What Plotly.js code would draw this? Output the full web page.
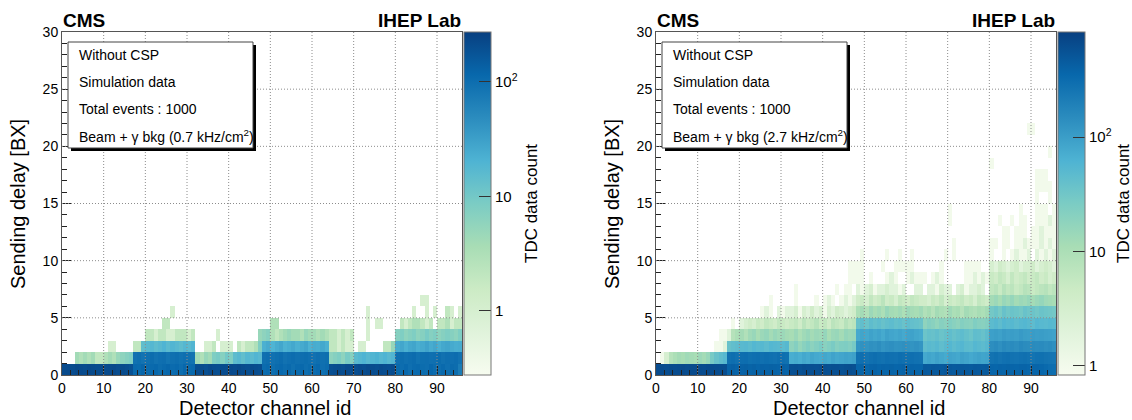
<!DOCTYPE html>
<html><head><meta charset="utf-8">
<script src="https://cdn.plot.ly/plotly-3.0.1.min.js"></script>
<style>html,body{margin:0;padding:0;background:#fff}#chart{width:1132px;height:420px}</style>
</head><body><div id="chart"></div>
<script>
// ---------------- DATA (TDC data counts per channel, per sending-delay bin) ----------------
const nChannels = 96;
const nDelayBins = 30;

// Left panel: gamma bkg 0.7 kHz/cm2 ; dense rows for delay bins 0..4
const leftRow0 = [
  215,220,210,225,218,212,222,216,208,220,214,218,224,210,216,205,190,
  112,108,120,104,110,115,102,109,117,106,112,100,114,108,111,
  205,212,198,218,207,200,215,209,222,214,226,210,203,219,208,201,
  104,110,98,107,112,101,109,95,106,113,99,108,104,111,97,105,
  196,205,212,203,218,209,200,214,206,221,210,203,215,207,199,211,
  108,101,112,97,106,110,103,99,114,105,100,109,96,107,102,72];
const leftRow1 = [
  0,0,0,4,3,4,3,4,2,2,3,4,3,5,6,7,8,
  92,98,88,95,102,90,96,99,87,94,100,91,97,93,89,
  4,3,5,4,8,9,7,10,8,15,17,14,18,16,19,17,
  95,100,92,98,104,90,97,101,94,99,103,96,92,100,95,98,
  6,7,8,6,9,7,16,18,20,17,19,21,18,20,17,19,
  96,102,94,99,105,91,98,100,95,97,103,93,99,96,101,90];
const leftRow2 = [
  0,0,0,0,0,0,0,0,0,0,0,1,1,0,0,0,0,
  2,2,14,16,18,15,17,20,16,19,17,15,18,16,19,
  0,0,1,1,2,0,1,1,1,0,2,1,2,2,3,8,
  22,25,20,24,27,21,23,26,22,25,28,21,24,23,26,22,
  2,2,1,2,1,1,0,1,1,0,0,0,0,2,2,5,
  24,27,22,26,28,23,25,29,24,27,22,26,28,25,23,24];
const leftRow3 = [
  0,0,0,0,0,0,0,0,0,0,0,0,0,0,0,0,0,
  0,0,0,2,2,1,2,2,1,1,2,2,2,1,2,
  0,0,0,0,0,1,0,0,0,0,0,0,0,0,0,5,
  6,7,3,2,3,4,5,4,4,3,5,4,4,3,4,3,
  2,2,1,2,1,2,0,0,0,1,0,0,0,0,0,0,
  7,8,6,7,8,6,7,9,7,8,6,7,8,7,6,8];
const leftRow4 = [
  0,0,0,0,0,0,0,0,0,0,0,0,0,0,0,0,0,
  0,0,0,0,0,0,0,2,2,0,0,0,0,0,0,
  0,0,0,0,0,0,0,0,0,0,0,0,0,0,0,0,
  0,0,3,3,0,0,0,0,0,0,0,0,0,0,0,0,
  0,0,0,0,0,0,0,0,0,1,0,1,1,0,0,0,
  0,2,1,2,3,3,2,1,2,0,2,2,3,1,2,2];
// sparse hits above: [delay bin, channel, count]
const leftSparse = [[5,26,1],[5,73,1],[5,84,1],[5,87,1],[5,89,1],[5,92,2],[5,93,1],[5,95,1],[6,86,1],[6,87,1]];

// Right panel: gamma bkg 2.7 kHz/cm2 ; dense rows for delay bins 0..9
const rightRow0 = [
  640,655,630,660,645,650,670,635,660,648,655,640,665,650,638,625,610,
  390,405,380,395,410,385,400,375,398,388,402,392,380,395,385,
  590,605,580,610,595,600,585,615,600,590,605,595,580,600,610,590,
  370,385,360,378,390,365,380,372,385,368,375,390,362,380,370,375,
  480,470,495,485,475,500,490,470,485,495,480,470,490,485,475,480,
  375,365,380,370,385,372,368,378,382,365,375,370,360,330,310,300];
const rightRow1 = [
  0,1,3,8,10,12,11,13,12,11,14,12,15,28,38,45,52,
  290,305,280,300,310,285,295,300,288,305,292,280,300,295,285,
  70,75,68,80,72,85,78,74,82,76,88,80,84,90,86,92,
  280,295,270,290,300,285,275,295,288,280,300,290,285,295,280,275,
  78,85,80,90,82,75,88,84,80,92,86,78,84,90,85,88,
  270,285,260,280,290,275,268,282,290,275,265,280,285,270,260,255];
const rightRow2 = [
  0,0,0,0,0,0,0,0,0,0,0,0,0,0,1,1,2,
  38,42,45,50,52,48,55,50,53,47,55,52,50,48,52,
  18,22,16,20,24,19,22,26,20,23,27,21,24,25,22,28,
  120,130,125,135,128,140,122,132,138,126,130,135,128,124,132,120,
  45,50,48,52,44,50,55,47,52,56,48,46,54,50,47,52,
  140,150,135,155,145,150,142,158,148,145,152,146,150,140,148,135];
const rightRow3 = [
  0,0,0,0,0,0,0,0,0,0,0,0,0,0,0,1,1,
  2,8,10,12,9,13,15,11,14,16,12,15,13,14,12,
  11,14,10,13,15,12,14,13,16,11,14,15,12,16,14,15,
  78,85,80,90,82,88,76,92,84,80,86,78,88,90,82,76,
  35,40,38,42,36,40,44,38,42,46,40,35,44,42,38,45,
  95,100,92,105,98,102,96,108,100,97,104,99,102,96,94,90];
const rightRow4 = [
  0,0,0,0,0,0,0,0,0,0,0,0,0,0,0,0,0,
  0,1,0,2,3,4,3,5,4,6,5,4,6,5,4,
  5,6,4,7,5,6,8,5,6,4,7,6,5,8,6,7,
  38,42,36,45,40,44,38,42,46,40,43,37,44,41,39,36,
  18,22,20,17,21,19,23,20,18,22,20,19,24,21,20,22,
  48,52,45,55,50,53,47,52,55,50,46,54,51,49,53,50];
const rightRow5 = [
  0,0,0,0,0,0,0,0,0,0,0,0,0,0,0,0,0,
  0,0,0,0,0,0,0,0,1,2,1,0,2,1,2,
  2,3,1,3,2,4,2,3,1,3,2,4,3,2,3,4,
  10,12,9,14,11,13,10,15,12,11,13,10,14,12,11,13,
  9,11,8,12,10,9,13,10,11,8,12,10,9,11,10,12,
  30,35,28,38,32,36,34,30,37,33,35,31,36,34,32,30];
const rightRow6 = [
  0,0,0,0,0,0,0,0,0,0,0,0,0,0,0,0,0,
  0,0,0,0,0,0,0,0,0,0,1,0,0,0,0,
  0,1,0,0,0,0,1,0,1,2,1,0,1,2,1,2,
  4,5,3,6,4,5,7,4,5,3,6,5,4,6,5,4,
  4,3,5,4,6,3,5,4,5,6,4,5,3,6,5,4,
  12,14,11,15,13,16,12,14,13,15,12,14,16,13,12,11];
const rightRow7 = [
  0,0,0,0,0,0,0,0,0,0,0,0,0,0,0,0,0,
  0,0,0,0,0,0,0,0,0,0,0,0,0,0,0,
  0,1,0,0,0,0,0,0,0,0,0,1,0,1,1,0,
  2,1,2,3,1,2,2,3,2,2,1,2,0,0,2,2,
  0,2,2,1,3,2,2,0,2,3,1,2,2,3,2,0,
  6,7,5,8,6,7,5,6,8,7,5,6,7,8,6,7];
const rightRow8 = [
  0,0,0,0,0,0,0,0,0,0,0,0,0,0,0,0,0,
  0,0,0,0,0,0,0,0,0,0,0,0,0,0,0,
  0,0,0,0,0,0,0,0,0,0,0,0,0,0,1,1,
  1,1,0,1,0,0,0,1,2,1,0,0,1,2,1,1,
  1,0,1,2,1,0,0,0,0,0,1,1,2,1,2,1,
  5,4,6,5,3,6,4,5,6,4,5,6,4,5,3,4];
const rightRow9 = [
  0,0,0,0,0,0,0,0,0,0,0,0,0,0,0,0,0,
  0,0,0,0,0,0,0,0,0,0,0,0,0,0,0,
  0,0,0,0,0,0,0,0,0,0,0,0,0,0,1,1,
  1,1,0,0,0,0,1,0,0,1,1,1,1,1,0,0,
  0,0,0,0,1,0,0,0,0,0,1,1,1,1,0,0,
  3,2,4,3,2,3,4,2,3,3,4,2,3,4,3,2];
const rightSparse = [
  [10,49,1],[10,55,1],[10,58,1],[10,61,1],[10,69,1],[10,71,1],[10,80,1],[10,83,1],[10,85,1],[10,86,2],[10,87,1],[10,88,1],[10,89,2],[10,91,2],[10,92,1],[10,93,2],[10,94,1],[10,95,2],
  [11,71,1],[11,80,1],[11,81,1],[11,83,1],[11,84,1],[11,86,1],[11,87,1],[11,88,2],[11,89,1],[11,90,1],[11,91,1],[11,92,2],[11,93,1],[11,94,2],[11,95,1],
  [12,83,1],[12,84,1],[12,86,1],[12,87,1],[12,88,1],[12,90,1],[12,91,1],[12,92,2],[12,93,1],[12,94,1],[12,95,1],
  [13,70,1],[13,82,1],[13,85,1],[13,87,1],[13,88,1],[13,91,1],[13,92,1],[13,93,1],[13,94,2],[13,95,1],
  [14,70,1],[14,87,1],[14,91,1],[14,92,1],[14,93,1],[14,95,1],
  [15,91,1],[15,94,1],
  [16,91,1],[16,92,1],[16,93,1],[16,94,1],
  [17,91,1],[17,92,1],[17,93,1],
  [18,80,1],[19,94,1],[21,89,1],[21,90,1]];

// colour-bar ranges
const leftCbRange = [0.275, 272];
const rightCbRange = [0.83, 830];
const cbMajorTicks = [1, 10, 100];
const cbMajorLabels = ['1', '10', '10<sup>2</sup>'];
const leftCbMinor = [0.3,0.4,0.5,0.6,0.7,0.8,0.9,2,3,4,5,6,7,8,9,20,30,40,50,60,70,80,90,200];
const rightCbMinor = [2,3,4,5,6,7,8,9,20,30,40,50,60,70,80,90,200,300,400,500,600,700,800];

const xTickVals = [0,10,20,30,40,50,60,70,80,90];
const yTickVals = [0,5,10,15,20,25,30];
const legendLinesLeft = ['Without CSP','Simulation data','Total events : 1000','Beam + \u03b3 bkg (0.7 kHz/cm<sup>2</sup>)'];
const legendLinesRight = ['Without CSP','Simulation data','Total events : 1000','Beam + \u03b3 bkg (2.7 kHz/cm<sup>2</sup>)'];

// ---------------- BUILD ----------------
function buildLogMatrix(dense, sparse) {
  const m = [];
  for (let k = 0; k < nDelayBins; k++) m.push(dense[k] ? dense[k].slice(0, nChannels) : new Array(nChannels).fill(0));
  sparse.forEach(([k, c, v]) => { m[k][c] = v; });
  return m.map(r => r.map(v => v > 0 ? Math.log10(v) : null));
}
const zLeft = buildLogMatrix([leftRow0,leftRow1,leftRow2,leftRow3,leftRow4], leftSparse);
const zRight = buildLogMatrix([rightRow0,rightRow1,rightRow2,rightRow3,rightRow4,rightRow5,rightRow6,rightRow7,rightRow8,rightRow9], rightSparse);

const W = 1132, H = 420;
const px = p => p / W, py = p => 1 - p / H;
const FONT = 'Liberation Sans, Arial, Helvetica, sans-serif';

const gnbu = [[0,'#f7fcf0'],[0.125,'#e0f3db'],[0.25,'#ccebc5'],[0.375,'#a8ddb5'],[0.5,'#7bccc4'],[0.625,'#4eb3d3'],[0.75,'#2b8cbe'],[0.875,'#0868ac'],[1,'#084081']];

const plotTop = 32, plotBot = 375, cbThick = 27;
const panels = [
  {x0:62, x1:462, cb:464, cbTitle:531, ytitle:18, z:zLeft, range:leftCbRange, minor:leftCbMinor, legend:legendLinesLeft},
  {x0:656, x1:1056, cb:1058, cbTitle:1123, ytitle:612, z:zRight, range:rightCbRange, minor:rightCbMinor, legend:legendLinesRight}
];

const traces = [], shapes = [], annotations = [];
const layout = {
  width: W, height: H, margin: {l:0, r:0, t:0, b:0},
  paper_bgcolor: '#fff', plot_bgcolor: '#fff',
  font: {family: FONT, color: '#000'},
  showlegend: false
};
const gridLine = {color:'#8c8c8c', width:1, dash:'1px,2px'};

panels.forEach((p, i) => {
  const xa = i === 0 ? 'x' : 'x2', ya = i === 0 ? 'y' : 'y2';
  const xKey = i === 0 ? 'xaxis' : 'xaxis2', yKey = i === 0 ? 'yaxis' : 'yaxis2';
  const lmin = Math.log10(p.range[0]), lmax = Math.log10(p.range[1]);
  traces.push({
    type: 'heatmap', z: p.z, x0: 0.5, dx: 1, y0: 0.5, dy: 1,
    xaxis: xa, yaxis: ya, colorscale: gnbu,
    zmin: lmin, zmax: lmax, zauto: false,
    hoverinfo: 'skip',
    colorbar: {
      x: px(p.cb), xanchor: 'left', xpad: 0, ypad: 0,
      y: py(plotBot), yanchor: 'bottom', len: (plotBot - plotTop) / H, lenmode: 'fraction',
      thickness: cbThick, thicknessmode: 'pixels',
      outlinewidth: 1, outlinecolor: '#777',
      tickmode: 'array',
      tickvals: cbMajorTicks.map(v => Math.log10(v)),
      ticktext: cbMajorLabels,
      ticks: 'inside', ticklen: 12, tickwidth: 1, tickcolor: '#333',
      tickfont: {size: 15, family: FONT, color: '#000'}
    }
  });
  // minor ticks of the logarithmic palette axis
  p.minor.forEach(v => {
    const yy = py(plotBot) + (Math.log10(v) - lmin) / (lmax - lmin) * (plotBot - plotTop) / H;
    shapes.push({type:'line', xref:'paper', yref:'paper', x0:px(p.cb + cbThick - 6), x1:px(p.cb + cbThick), y0:yy, y1:yy, layer:'above', line:{color:'#333', width:1}});
  });
  layout[xKey] = {
    domain: [px(p.x0), px(p.x1)], range: [0, 96], anchor: ya,
    tickmode: 'array', tickvals: xTickVals, ticks: 'inside', ticklen: 9, tickwidth: 1, tickcolor: '#222',
    minor: {dtick: 2, tick0: 0, ticks: 'inside', ticklen: 5, tickcolor: '#222', showgrid: false},
    showline: true, mirror: true, linecolor: '#555', linewidth: 1,
    showgrid: false, zeroline: false, fixedrange: true,
    tickfont: {size: 14, family: FONT, color: '#000'}
  };
  layout[yKey] = {
    domain: [py(plotBot), py(plotTop)], range: [0, 30], anchor: xa,
    tickmode: 'array', tickvals: yTickVals, ticks: 'inside', ticklen: 9, tickwidth: 1, tickcolor: '#222',
    minor: {dtick: 1, tick0: 0, ticks: 'inside', ticklen: 5, tickcolor: '#222', showgrid: false},
    showline: true, mirror: true, linecolor: '#555', linewidth: 1,
    showgrid: false, zeroline: false, fixedrange: true,
    tickfont: {size: 14, family: FONT, color: '#000'}
  };
  // dotted grid drawn above the cells
  xTickVals.slice(1).forEach(v => shapes.push({type:'line', xref:xa, yref:ya, x0:v, x1:v, y0:0, y1:30, layer:'above', line:gridLine}));
  yTickVals.slice(1, -1).forEach(v => shapes.push({type:'line', xref:xa, yref:ya, x0:0, x1:96, y0:v, y1:v, layer:'above', line:gridLine}));
  // legend box with shadow
  const bx0 = p.x0 + 6, bx1 = p.x0 + 191, by0 = 42, by1 = 148;
  shapes.push({type:'rect', xref:'paper', yref:'paper', x0:px(bx0+3), x1:px(bx1+3), y0:py(by1+3), y1:py(by0+3), layer:'above', fillcolor:'#000', line:{width:0}});
  shapes.push({type:'rect', xref:'paper', yref:'paper', x0:px(bx0), x1:px(bx1), y0:py(by1), y1:py(by0), layer:'above', fillcolor:'#fff', line:{color:'#444', width:1}});
  const lineY = [55, 82, 109, 136];
  p.legend.forEach((t, j) => annotations.push({text:t, xref:'paper', yref:'paper', x:px(bx0+9), y:py(lineY[j]), xanchor:'left', yanchor:'middle', showarrow:false, font:{size:14, family:FONT, color:'#000'}}));
  annotations.push({text:'<b>CMS</b>', xref:'paper', yref:'paper', x:px(p.x0 - 1), y:py(20), xanchor:'left', yanchor:'middle', showarrow:false, font:{size:19, family:FONT, color:'#000'}});
  annotations.push({text:'<b>IHEP Lab</b>', xref:'paper', yref:'paper', x:px(p.x1 + 1), y:py(20), xanchor:'right', yanchor:'middle', showarrow:false, font:{size:19, family:FONT, color:'#000'}});
  annotations.push({text:'Detector channel id', xref:'paper', yref:'paper', x:px((p.x0 + p.x1) / 2 + 3), y:py(408), xanchor:'center', yanchor:'middle', showarrow:false, font:{size:20, family:FONT, color:'#000'}});
  annotations.push({text:'Sending delay [BX]', xref:'paper', yref:'paper', x:px(p.ytitle), y:py(204), xanchor:'center', yanchor:'middle', textangle:-90, showarrow:false, font:{size:20, family:FONT, color:'#000'}});
  annotations.push({text:'TDC data count', xref:'paper', yref:'paper', x:px(p.cbTitle), y:py(204), xanchor:'center', yanchor:'middle', textangle:-90, showarrow:false, font:{size:17, family:FONT, color:'#000'}});
});
layout.shapes = shapes;
layout.annotations = annotations;

Plotly.newPlot('chart', traces, layout, {staticPlot: true, displayModeBar: false});
</script>
</body></html>
